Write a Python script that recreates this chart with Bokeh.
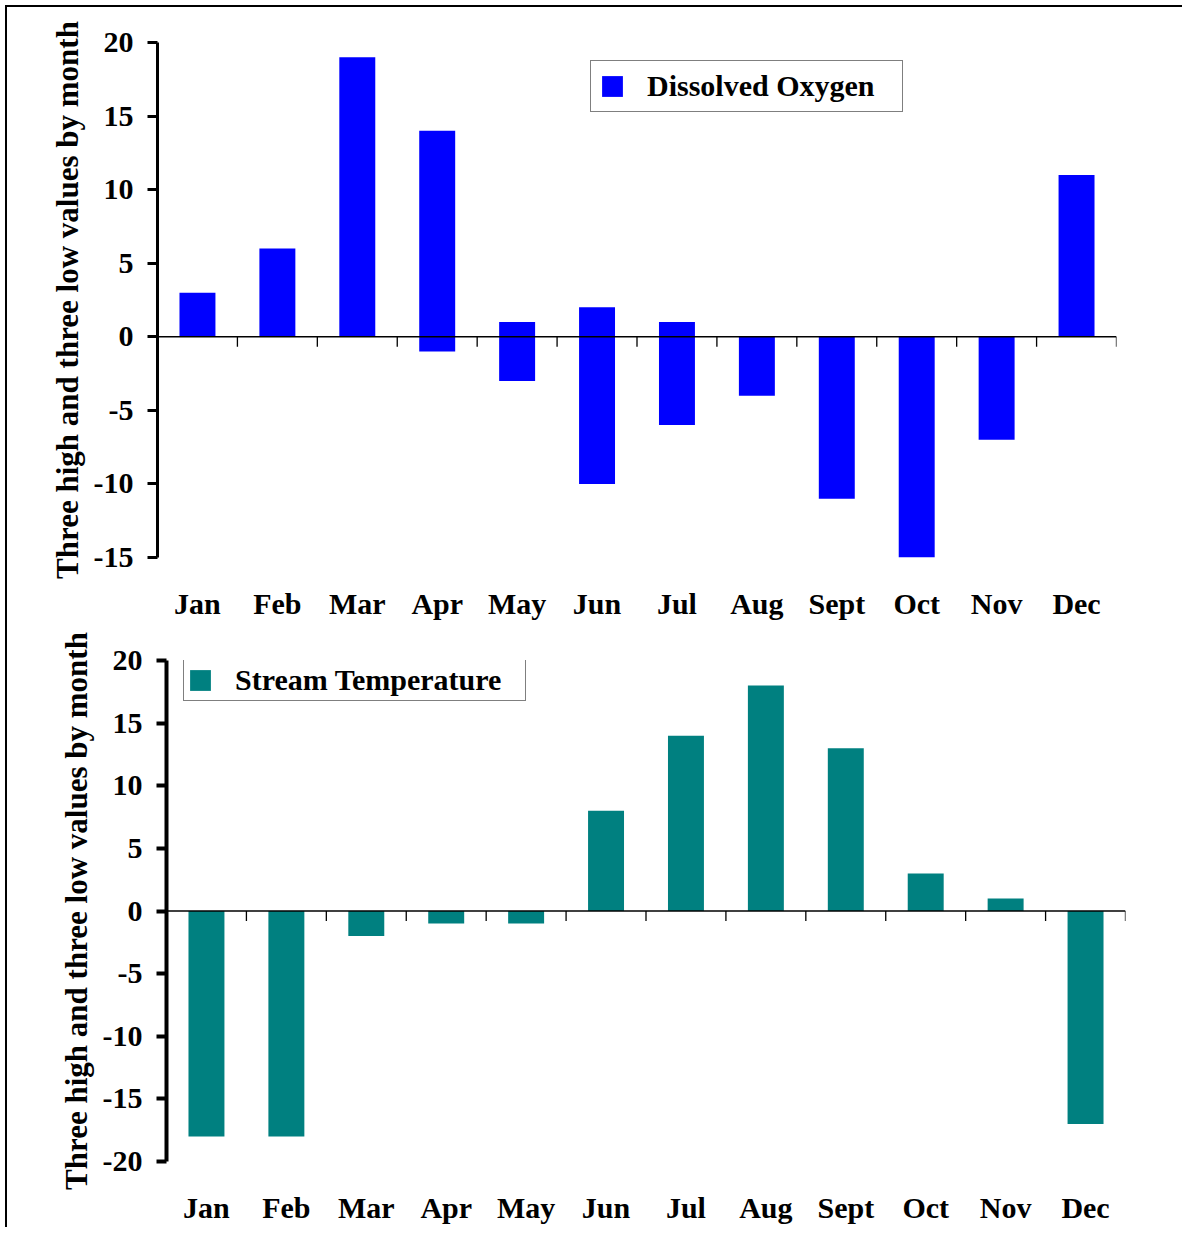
import math
from bokeh.plotting import figure
from bokeh.models import Range1d, FactorRange, FixedTicker, Span, Legend, LegendItem
from bokeh.layouts import column
from bokeh.embed import file_html
from bokeh.resources import INLINE

# ---- data ----
months = ["Jan", "Feb", "Mar", "Apr", "May", "Jun", "Jul", "Aug", "Sept", "Oct", "Nov", "Dec"]

do_high = [3, 6, 19, 14, 1, 2, 1, 0, 0, 0, 0, 11]
do_low = [0, 0, 0, -1, -3, -10, -6, -4, -11, -15, -7, 0]

temp_high = [0, 0, 0, 0, 0, 8, 14, 18, 13, 3, 1, 0]
temp_low = [-18, -18, -2, -1, -1, 0, 0, 0, 0, 0, 0, -17]

do_yticks = [-15, -10, -5, 0, 5, 10, 15, 20]
temp_yticks = [-20, -15, -10, -5, 0, 5, 10, 15, 20]

y_title = "Three high and three low values by month"
do_label = "Dissolved Oxygen"
temp_label = "Stream Temperature"

FONT = "Liberation Serif"


def make_panel(high, low, yticks, color, label, width, height, mb, leg, axis_w, styles=None):
    left, top, right, bottom = mb
    p = figure(
        x_range=FactorRange(*months),
        y_range=Range1d(min(yticks), max(yticks)),
        width=width, height=height,
        output_backend="svg", toolbar_location=None,
        min_border_left=left, min_border_top=top,
        min_border_right=right, min_border_bottom=bottom,
        background_fill_color="white", border_fill_color=None,
        styles=styles or {},
    )
    p.outline_line_color = None
    p.xgrid.grid_line_color = None
    p.ygrid.grid_line_color = None

    r = p.vbar(x=months, bottom=low, top=high, width=0.45,
               fill_color=color, line_color=None)

    # baseline at zero with category-boundary ticks
    p.add_layout(Span(location=0, dimension="width", line_color="black", line_width=1.5))
    bounds = list(range(1, len(months) + 1))
    p.ray(x=bounds, y=[0] * len(bounds), length=10, angle=-math.pi / 2,
          length_units="screen", line_color="black", line_width=1.3)

    xa = p.xaxis[0]
    xa.axis_line_color = None
    xa.major_tick_line_color = None
    xa.minor_tick_line_color = None
    xa.major_label_text_font = FONT
    xa.major_label_text_font_style = "bold"
    xa.major_label_text_font_size = "30px"
    xa.major_label_text_color = "black"
    xa.major_label_standoff = 23

    ya = p.yaxis[0]
    ya.ticker = FixedTicker(ticks=yticks)
    ya.major_label_overrides = {float(t): str(t) for t in yticks}
    ya.axis_line_width = axis_w
    ya.axis_line_color = "black"
    ya.major_tick_line_width = axis_w
    ya.major_tick_line_color = "black"
    ya.major_tick_out = 10
    ya.major_tick_in = 0
    ya.minor_tick_line_color = None
    ya.major_label_text_font = FONT
    ya.major_label_text_font_style = "bold"
    ya.major_label_text_font_size = "30px"
    ya.major_label_text_color = "black"
    ya.major_label_standoff = 14
    ya.axis_label = y_title
    ya.axis_label_text_font = FONT
    ya.axis_label_text_font_style = "bold"
    ya.axis_label_text_font_size = "31px"
    ya.axis_label_text_color = "black"
    ya.axis_label_standoff = 6

    loc, pad, standoff, lw = leg
    legend = Legend(
        items=[LegendItem(label=label, renderers=[r])],
        location=loc, margin=0, padding=pad,
        glyph_width=26, glyph_height=26,
        label_standoff=standoff, label_width=lw,
        label_text_font=FONT, label_text_font_style="bold",
        label_text_font_size="30px", label_text_color="black",
        border_line_color="black", border_line_width=1.5,
        background_fill_color="white", background_fill_alpha=1.0,
    )
    p.add_layout(legend)
    return p


p1 = make_panel(do_high, do_low, do_yticks, "#0000FF", do_label, 1180, 620,
                (149, 35, 57, 70), ((433, 445), 8, 22, 247), 3,
                styles={"margin-left": "-9px"})
p2 = make_panel(temp_high, temp_low, temp_yticks, "#008080", temp_label, 1175, 600,
                (159, 33, 57, 66), ((17, 460), 3, 22, 287), 4)

layout = column(p1, p2, spacing=0,
                styles={"border-left": "2px solid black", "border-top": "2px solid black",
                        "margin-left": "5px", "margin-top": "5px"})

open("out.html", "w").write(file_html(layout, INLINE))
